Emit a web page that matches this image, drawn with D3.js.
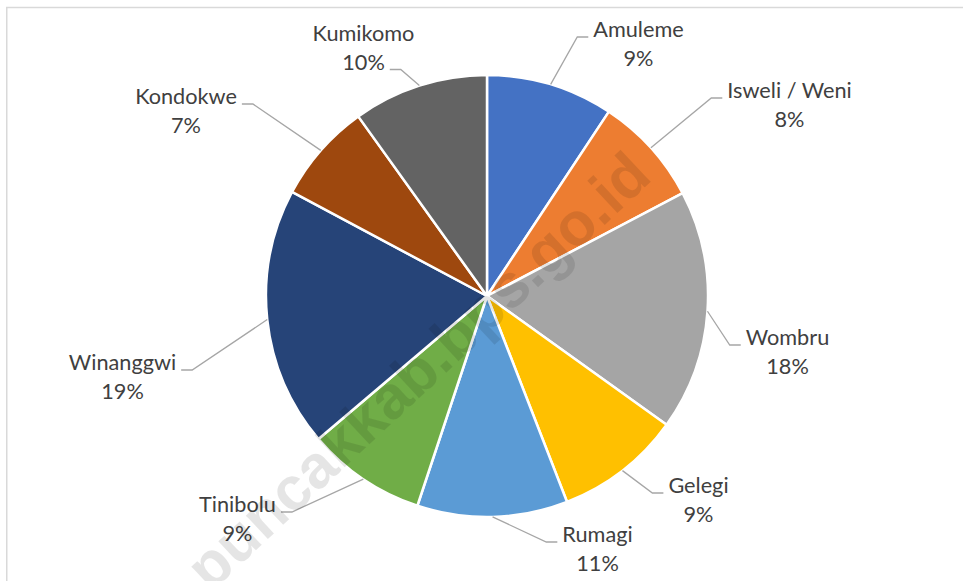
<!DOCTYPE html>
<html><head><meta charset="utf-8">
<script src="https://cdn.jsdelivr.net/npm/d3@7"></script>
<style>html,body{margin:0;padding:0;background:#fff;overflow:hidden}</style>
</head><body>
<svg id="c" width="963" height="581"></svg>
<script>
const categories = ["Amuleme","Isweli / Weni","Wombru","Gelegi","Rumagi","Tinibolu","Winanggwi","Kondokwe","Kumikomo"];
const values = [9.3, 8.0, 17.6, 9.2, 11.0, 8.7, 19.0, 7.3, 9.9];
const colors = ["#4472C4","#ED7D31","#A5A5A5","#FFC000","#5B9BD5","#70AD47","#264478","#9E480E","#636363"];
const watermark = "puncakkab.bps.go.id";

// label layout: centre x, name baseline y, side of leader line, row the line attaches to
const labelLayout = [
  {cx:638.5, y:37,  side:"left",  row:0},
  {cx:789.5, y:98,  side:"left",  row:0},
  {cx:787.5, y:345, side:"left",  row:0},
  {cx:698.5, y:493, side:"left",  row:0},
  {cx:597.5, y:542, side:"left",  row:0},
  {cx:237.5, y:512, side:"right", row:0},
  {cx:122.5, y:370, side:"right", row:0},
  {cx:186,   y:104, side:"right", row:0},
  {cx:363.5, y:41,  side:"right", row:1}
];

const svg = d3.select("#c");
const W = 963, H = 581;
const cx = 487, cy = 296, R = 221;
const lineGap = 28.5;

// frame
svg.append("path").attr("d", `M6.75,${H} V7.5 H${W}`).attr("fill","none")
  .attr("stroke","#d9d9d9").attr("stroke-width",1.5);

const pie = d3.pie().sort(null).value(d => d)(values);
const arc = d3.arc().innerRadius(0).outerRadius(R);
const edge = d3.arc().innerRadius(R).outerRadius(R);

const g = svg.append("g").attr("transform", `translate(${cx},${cy})`);
g.selectAll("path.slice").data(pie).join("path").attr("class","slice")
  .attr("d", arc).attr("fill", (d,i) => colors[i])
  .attr("stroke","#fff").attr("stroke-width",2.5).attr("stroke-linejoin","round");

// labels
const font = "Lato, 'Open Sans', sans-serif";
const fs = 21.7;
const lab = svg.append("g");
pie.forEach((d,i) => {
  const L = labelLayout[i];
  const t = lab.append("text").attr("font-family", font).attr("font-size", fs)
    .attr("fill","#404040").attr("text-anchor","middle");
  const t1 = t.append("tspan").attr("x", L.cx).attr("y", L.y).text(categories[i]);
  const t2 = t.append("tspan").attr("x", L.cx).attr("y", L.y + lineGap).text(Math.round(values[i]) + "%");
  const w = (L.row === 0 ? t1 : t2).node().getComputedTextLength();
  const ly = L.row === 0 ? L.y : L.y + lineGap;
  const sgn = L.side === "left" ? -1 : 1;
  const xEnd = L.cx + sgn * (w / 2 + 5);
  const xElbow = xEnd + sgn * 11;
  const [ex, ey] = edge.centroid(d);
  lab.append("polyline")
    .attr("points", `${cx+ex},${cy+ey} ${xElbow},${ly} ${xEnd},${ly}`)
    .attr("fill","none").attr("stroke","#a6a6a6").attr("stroke-width",1.3);
});

// watermark
svg.append("text").attr("transform","translate(432,386) rotate(-43)")
  .attr("text-anchor","middle").attr("font-family","'Liberation Sans', Arial, sans-serif")
  .attr("font-weight","bold").attr("font-size",61).attr("fill","rgba(0,0,0,0.1)")
  .text(watermark);
</script>
</body></html>
